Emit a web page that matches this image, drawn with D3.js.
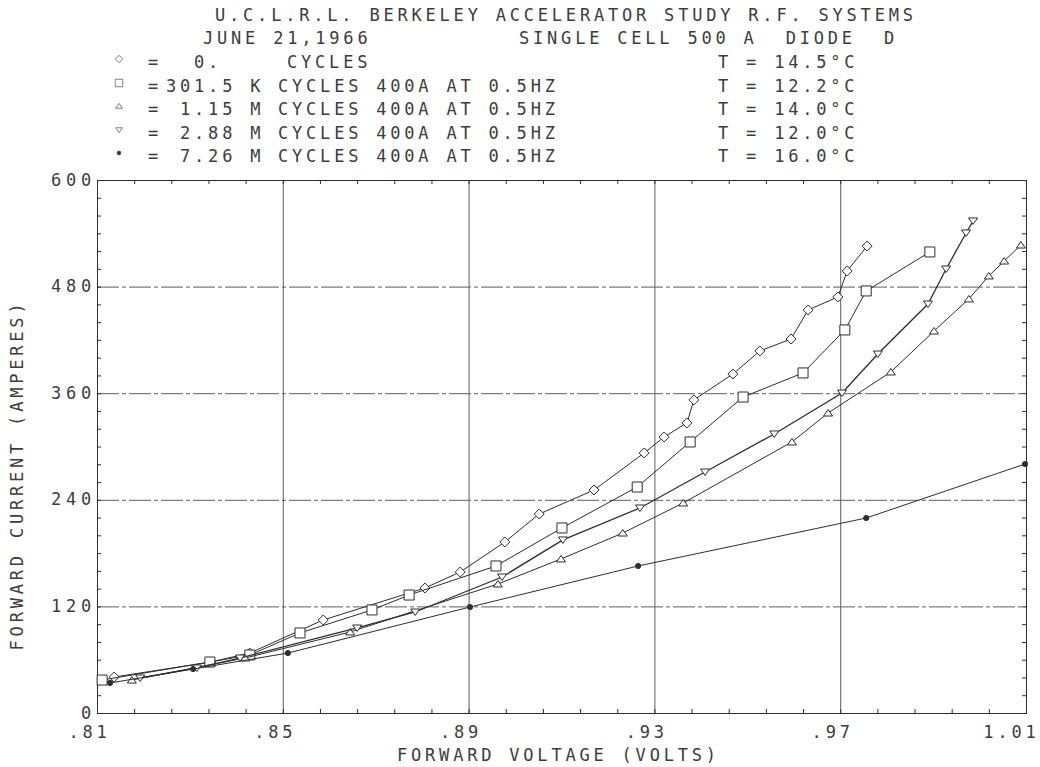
<!DOCTYPE html>
<html>
<head>
<meta charset="utf-8">
<script src="https://cdn.jsdelivr.net/npm/d3@7"></script>
<style>
body { margin: 0; background: #fff; }
text { font-family: "DejaVu Sans Mono", monospace; font-size: 17px; fill: #3c3c3c; letter-spacing: 3.8px; }
</style>
</head>
<body>
<svg id="chart" width="1040" height="767"></svg>
<script>
// values: [forward voltage, forward current]
const cycles0 = [[.8137,40.5],[.8345,57.4],[.8429,67.5],[.8587,104.7],[.8806,140.7],[.8882,158.7],[.8978,192.5],
	[.9052,224.0],[.9170,251.0],[.9278,292.7],[.9321,310.7],[.9370,326.5],[.9385,352.4],[.9469,381.6],[.9527,407.5],
	[.9594,421.0],[.9631,453.7],[.9695,468.3],[.9715,497.6],[.9758,525.7]]
const cycles301k = [[.8111,37.1],[.8343,57.4],[.8429,65.3],[.8537,90.1],[.8692,116.0],[.8772,132.8],[.8959,165.5],
	[.9101,208.3],[.9263,254.4],[.9377,305.1],[.9491,355.7],[.9620,382.8],[.9710,431.2],[.9756,475.1],[.9893,519.0]]
const cycles115m = [[.8175,37.1],[.8419,61.9],[.8645,91.2],[.8963,145.2],[.9099,173.4],[.9232,202.6],[.9362,236.4],
	[.9596,305.1],[.9674,337.7],[.9809,383.9],[.9902,430.0],[.9977,466.1],[1.0020,492.0],[1.0053,508.8],[1.0089,526.8]]
const cycles288m = [[.8193,39.4],[.8315,50.7],[.8408,61.9],[.8660,95.7],[.8785,113.7],[.8972,153.1],[.9103,194.8],
	[.9269,230.8],[.9409,271.3],[.9558,314.1],[.9704,360.2],[.9781,404.1],[.9889,460.4],[.9928,499.8],[.9971,540.4],[.9986,553.9]]
const cycles726m = [[.8128,33.8],[.8307,49.5],[.8511,67.5],[.8903,119.3],[.9265,165.5],[.9756,219.5],[1.0098,280.3]]

const xTicks = [.81, .85, .89, .93, .97, 1.01]
const xTickLabels = ['.81', '.85', '.89', '.93', '.97', '1.01']
const yTicks = [0, 120, 240, 360, 480, 600]

const legendSymbols = ['diamond', 'square', 'up', 'down', 'dot']
const legendCounts = ['  0.', '301.5 K', ' 1.15 M', ' 2.88 M', ' 7.26 M']
const legendRest = ['CYCLES', 'CYCLES 400A AT 0.5HZ', 'CYCLES 400A AT 0.5HZ', 'CYCLES 400A AT 0.5HZ', 'CYCLES 400A AT 0.5HZ']
const legendTemps = ['T = 14.5°C', 'T = 12.2°C', 'T = 14.0°C', 'T = 12.0°C', 'T = 16.0°C']

const svg = d3.select('#chart')
const ink = '#2e2e2e'
const gridColor = '#5e5e5e'
const labelFont = '"DejaVu Sans Mono", monospace'

const xScale = d3.scaleLinear().domain([0.81, 1.01]).range([97, 1026])
const yScale = d3.scaleLinear().domain([0, 600]).range([713, 180])

const plotLeft = xScale.range()[0], plotRight = xScale.range()[1]
const plotTop = yScale.range()[1], plotBottom = yScale.range()[0]

// grid lines
svg.append('g')
	.attr('transform', `translate(0, ${plotBottom})`)
	.call(d3.axisBottom(xScale).tickValues(xTicks).tickSize(-(plotBottom - plotTop)).tickFormat(''))
	.call(g => g.select('.domain').remove())
	.selectAll('line').style('stroke', gridColor).style('stroke-width', 1)

svg.append('g')
	.attr('transform', `translate(${plotLeft}, 0)`)
	.call(d3.axisLeft(yScale).tickValues(yTicks).tickSize(-(plotRight - plotLeft)).tickFormat(''))
	.call(g => g.select('.domain').remove())
	.selectAll('line').style('stroke', gridColor).style('stroke-width', 1).style('stroke-dasharray', '22,3,4,3')

// small ticks on every side of the frame
const minorX = d3.range(0, 26).map(i => 0.81 + i * 0.008)
const minorY = d3.range(0, 31).map(i => i * 20)
const tick = 4
const frame = svg.append('g').attr('class', 'frame')
frame.append('g').attr('transform', `translate(0, ${plotBottom})`)
	.call(d3.axisBottom(xScale).tickValues(minorX).tickSize(-tick).tickFormat(''))
frame.append('g').attr('transform', `translate(0, ${plotTop})`)
	.call(d3.axisTop(xScale).tickValues(minorX).tickSize(-tick).tickFormat(''))
frame.append('g').attr('transform', `translate(${plotLeft}, 0)`)
	.call(d3.axisLeft(yScale).tickValues(minorY).tickSize(-tick).tickFormat(''))
frame.append('g').attr('transform', `translate(${plotRight}, 0)`)
	.call(d3.axisRight(yScale).tickValues(minorY).tickSize(-tick).tickFormat(''))
frame.selectAll('.domain').style('stroke', ink).style('stroke-width', 1)
frame.selectAll('.tick line').style('stroke', ink)

// tick labels
const xLab = svg.append('g')
	.attr('transform', `translate(0, ${plotBottom})`)
	.call(d3.axisBottom(xScale).tickValues(xTicks).tickSize(0).tickFormat((d, i) => xTickLabels[i]))
xLab.select('.domain').remove()
xLab.selectAll('text')
	.attr('text-anchor', 'end').attr('x', 13).attr('y', 13)
	.style('font-size', '17px').style('fill', '#3c3c3c').style('font-family', labelFont)

const yLab = svg.append('g')
	.attr('transform', `translate(${plotLeft}, 0)`)
	.call(d3.axisLeft(yScale).tickValues(yTicks).tickSize(0).tickPadding(1).tickFormat(d3.format('d')))
yLab.select('.domain').remove()
yLab.selectAll('text')
	.attr('dy', '0.3em')
	.style('font-size', '17px').style('fill', '#3c3c3c').style('font-family', labelFont)
	.style('letter-spacing', '4.8px')

// axis titles
svg.append('text').attr('x', 397).attr('y', 761).text('FORWARD VOLTAGE (VOLTS)')
svg.append('text')
	.attr('transform', 'translate(23, 475) rotate(-90)')
	.attr('text-anchor', 'middle')
	.text('FORWARD CURRENT (AMPERES)')

// markers
const markerPath = {
	diamond: 'M0,-5L5,0L0,5L-5,0Z',
	square: 'M-5,-5H5V5H-5Z',
	up: 'M0,-3.5L4.5,3L-4.5,3Z',
	down: 'M0,3.5L4.5,-3L-4.5,-3Z',
	dot: 'M2.6,0A2.6,2.6 0 1,1 -2.6,0A2.6,2.6 0 1,1 2.6,0Z'
}

const line = d3.line().x(d => xScale(d[0])).y(d => yScale(d[1]))
const allSeries = [cycles0, cycles301k, cycles115m, cycles288m, cycles726m]

allSeries.forEach((data, k) => {
	svg.append('path')
		.datum(data)
		.attr('d', line)
		.attr('fill', 'none')
		.attr('stroke', ink)
		.attr('stroke-width', k === 3 ? 1.3 : 1)

	svg.selectAll('.m' + k)
		.data(data)
		.enter()
		.append('path')
		.attr('class', 'm' + k)
		.attr('transform', d => `translate(${xScale(d[0])}, ${yScale(d[1])})`)
		.attr('d', markerPath[legendSymbols[k]])
		.attr('fill', legendSymbols[k] === 'dot' ? ink : '#fff')
		.attr('stroke', ink)
		.attr('stroke-width', 1)
})

// header
svg.append('text').attr('x', 215).attr('y', 21).text('U.C.L.R.L. BERKELEY ACCELERATOR STUDY R.F. SYSTEMS')
svg.append('text').attr('x', 203).attr('y', 44).text('JUNE 21,1966')
svg.append('text').attr('x', 519).attr('y', 44).style('white-space', 'pre').text('SINGLE CELL 500 A  DIODE  D')

// legend
const rowY = [62, 86, 109, 133, 156]
legendSymbols.forEach((s, i) => {
	const y = rowY[i]
	svg.append('path')
		.attr('transform', `translate(119, ${y - 3}) scale(0.75)`)
		.attr('d', markerPath[s])
		.attr('fill', s === 'dot' ? ink : '#fff')
		.attr('stroke', '#555')
	svg.append('text').attr('x', 148).attr('y', y + 6).text('=')
	svg.append('text').attr('x', 166).attr('y', y + 6).style('white-space', 'pre').text(legendCounts[i])
	svg.append('text').attr('x', i === 0 ? 287 : 278).attr('y', y + 6).text(legendRest[i])
	svg.append('text').attr('x', 718).attr('y', y + 6).text(legendTemps[i])
})
</script>
</body>
</html>
